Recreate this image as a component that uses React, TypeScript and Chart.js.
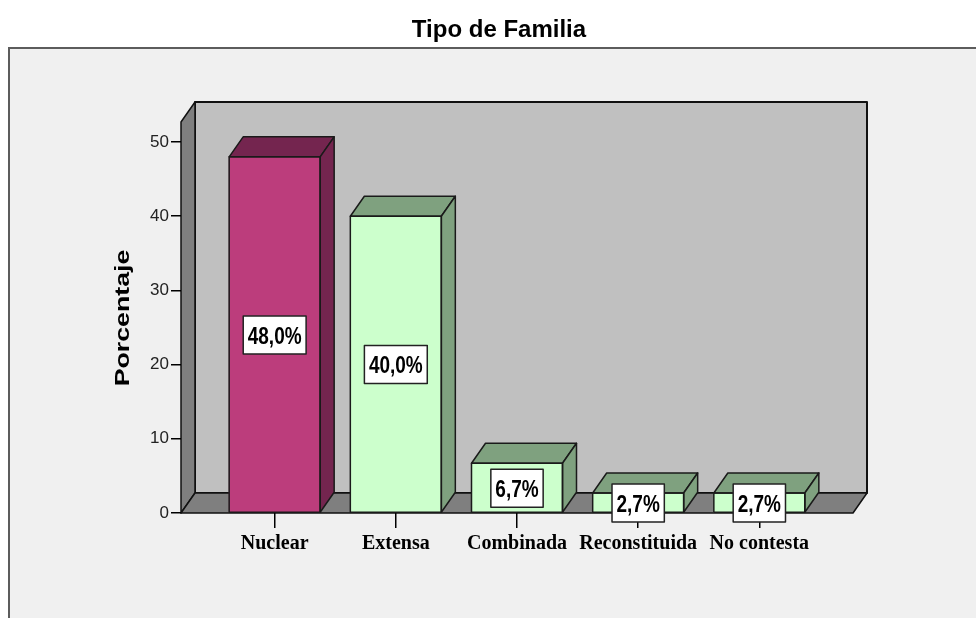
import React, { useEffect, useRef } from 'react';
import { Chart, registerables } from 'chart.js';

Chart.register(...registerables);

// ---- data ----
const chartTitle = 'Tipo de Familia';
const yAxisTitle = 'Porcentaje';
const categories = ['Nuclear', 'Extensa', 'Combinada', 'Reconstituida', 'No contesta'];
const percentages = [48.0, 40.0, 6.7, 2.7, 2.7];
const yTicks = [0, 10, 20, 30, 40, 50];
const yMax = 52.7;

// ---- styles ----
const FRONT = ['#BC3D7C', '#CCFFCC', '#CCFFCC', '#CCFFCC', '#CCFFCC'];
const SHADE = ['#74254F', '#7FA17F', '#7FA17F', '#7FA17F', '#7FA17F'];
const DX = 14;
const DY = -20;
const W = 976;
const H = 618;

const poly = (ctx: CanvasRenderingContext2D, pts: number[][], fill: string, stroke: string, lw: number) => {
  ctx.beginPath();
  ctx.moveTo(pts[0][0], pts[0][1]);
  for (let i = 1; i < pts.length; i++) ctx.lineTo(pts[i][0], pts[i][1]);
  ctx.closePath();
  ctx.fillStyle = fill;
  ctx.fill();
  ctx.strokeStyle = stroke;
  ctx.lineWidth = lw;
  ctx.lineJoin = 'round';
  ctx.stroke();
};

const threeD = {
  id: 'threeD',
  beforeDraw(chart: any) {
    const ctx: CanvasRenderingContext2D = chart.ctx;
    const { left: L, right: R, top: T, bottom: B } = chart.chartArea;
    ctx.save();
    ctx.fillStyle = '#ffffff';
    ctx.fillRect(0, 0, chart.width, chart.height);
    ctx.fillStyle = '#f0f0f0';
    ctx.fillRect(8, 47, chart.width, chart.height);
    ctx.strokeStyle = '#5c5c5c';
    ctx.lineWidth = 2;
    ctx.beginPath();
    ctx.moveTo(9, chart.height + 2);
    ctx.lineTo(9, 48);
    ctx.lineTo(chart.width + 2, 48);
    ctx.stroke();

    // title
    ctx.fillStyle = '#000';
    ctx.font = 'bold 24px "Liberation Sans", Arial, sans-serif';
    ctx.textAlign = 'center';
    ctx.textBaseline = 'alphabetic';
    ctx.fillText(chartTitle, 499, 37);

    // y axis title (rotated)
    ctx.save();
    ctx.translate(129, 318);
    ctx.rotate(-Math.PI / 2);
    ctx.scale(1.37, 1);
    ctx.font = 'bold 19.5px "Liberation Sans", Arial, sans-serif';
    ctx.textAlign = 'center';
    ctx.textBaseline = 'alphabetic';
    ctx.fillText(yAxisTitle, 0, 0);
    ctx.restore();

    // back wall
    poly(ctx, [[L + DX, T + DY], [R + DX, T + DY], [R + DX, B + DY], [L + DX, B + DY]], '#c0c0c0', '#111', 2);
    // left wall
    poly(ctx, [[L, B], [L, T], [L + DX, T + DY], [L + DX, B + DY]], '#7f7f7f', '#111', 1.5);
    // floor
    poly(ctx, [[L, B], [R, B], [R + DX, B + DY], [L + DX, B + DY]], '#7f7f7f', '#111', 1.5);
    ctx.restore();
  },
  afterDatasetsDraw(chart: any) {
    const ctx: CanvasRenderingContext2D = chart.ctx;
    const meta = chart.getDatasetMeta(0);
    const yScale = chart.scales.y;
    ctx.save();
    meta.data.forEach((bar: any, i: number) => {
      const { x, y, base, width } = bar.getProps(['x', 'y', 'base', 'width'], true);
      const l = x - width / 2;
      const r = x + width / 2;
      // top face
      poly(ctx, [[l, y], [l + DX, y + DY], [r + DX, y + DY], [r, y]], SHADE[i], '#1a1a1a', 1.5);
      // side face
      poly(ctx, [[r, y], [r + DX, y + DY], [r + DX, base + DY], [r, base]], SHADE[i], '#1a1a1a', 1.5);
      // front outline
      ctx.strokeStyle = '#1a1a1a';
      ctx.lineWidth = 1.5;
      ctx.strokeRect(l, y, width, base - y);
    });
    // value labels
    meta.data.forEach((bar: any, i: number) => {
      const { x } = bar.getProps(['x'], true);
      const v = percentages[i];
      const cy = yScale.getPixelForValue(v / 2);
      const txt = v.toFixed(1).replace('.', ',') + '%';
      const fs = 19;
      const sy = 1.3;
      ctx.font = `bold ${fs}px "Liberation Sans", Arial, sans-serif`;
      const tw = ctx.measureText(txt).width;
      const bw = tw + 9;
      const bh = 38;
      ctx.fillStyle = '#ffffff';
      ctx.fillRect(x - bw / 2, cy - bh / 2, bw, bh);
      ctx.strokeStyle = '#222';
      ctx.lineWidth = 1.5;
      ctx.strokeRect(x - bw / 2, cy - bh / 2, bw, bh);
      ctx.save();
      ctx.translate(x, cy);
      ctx.scale(1, sy);
      ctx.fillStyle = '#000';
      ctx.textAlign = 'center';
      ctx.textBaseline = 'alphabetic';
      ctx.fillText(txt, 0, (0.716 * fs) / 2);
      ctx.restore();
    });
    ctx.restore();
  },
};

export default function App() {
  const ref = useRef<HTMLCanvasElement | null>(null);
  useEffect(() => {
    document.body.style.margin = '0';
    const canvas = ref.current!;
    const chart = new Chart(canvas, {
      type: 'bar',
      data: {
        datasets: [
          {
            data: categories.map((_, i) => ({ x: i, y: percentages[i] })) as any,
            backgroundColor: FRONT,
            borderWidth: 0,
            barThickness: 91,
          },
        ],
      },
      options: {
        animation: false,
        responsive: false,
        maintainAspectRatio: false,
        layout: { padding: { left: 0, top: 122, right: W - 853, bottom: 0 } },
        plugins: { legend: { display: false }, title: { display: false }, tooltip: { enabled: false } },
        scales: {
          x: {
            type: 'linear',
            min: -0.773,
            max: 4.773,
            offset: false,
            afterBuildTicks: (s: any) => {
              s.ticks = categories.map((_, i) => ({ value: i }));
            },
            afterFit: (s: any) => {
              s.height = H - 513;
            },
            grid: { offset: false, drawOnChartArea: false, drawTicks: true, tickLength: 15, color: '#000', lineWidth: 1.5 },
            border: { display: false },
            ticks: {
              callback: (v: any) => categories[v as number],
              autoSkip: false,
              maxRotation: 0,
              minRotation: 0,
              color: '#000',
              padding: 4,
              font: { family: '"Liberation Serif", "Times New Roman", serif', size: 20, weight: 'bold' },
            },
          } as any,
          y: {
            min: 0,
            max: yMax,
            afterBuildTicks: (s: any) => {
              s.ticks = yTicks.map((v) => ({ value: v }));
            },
            afterFit: (s: any) => {
              s.width = 181;
            },
            grid: { drawOnChartArea: false, drawTicks: true, tickLength: 10, color: '#000', lineWidth: 1.5 },
            border: { display: false },
            ticks: {
              color: '#222',
              padding: 2,
              font: { family: '"Liberation Sans", Arial, sans-serif', size: 17 },
            },
          } as any,
        },
      },
      plugins: [threeD],
    });
    return () => chart.destroy();
  }, []);
  return <canvas ref={ref} width={W} height={H} style={{ display: 'block' }} />;
}
